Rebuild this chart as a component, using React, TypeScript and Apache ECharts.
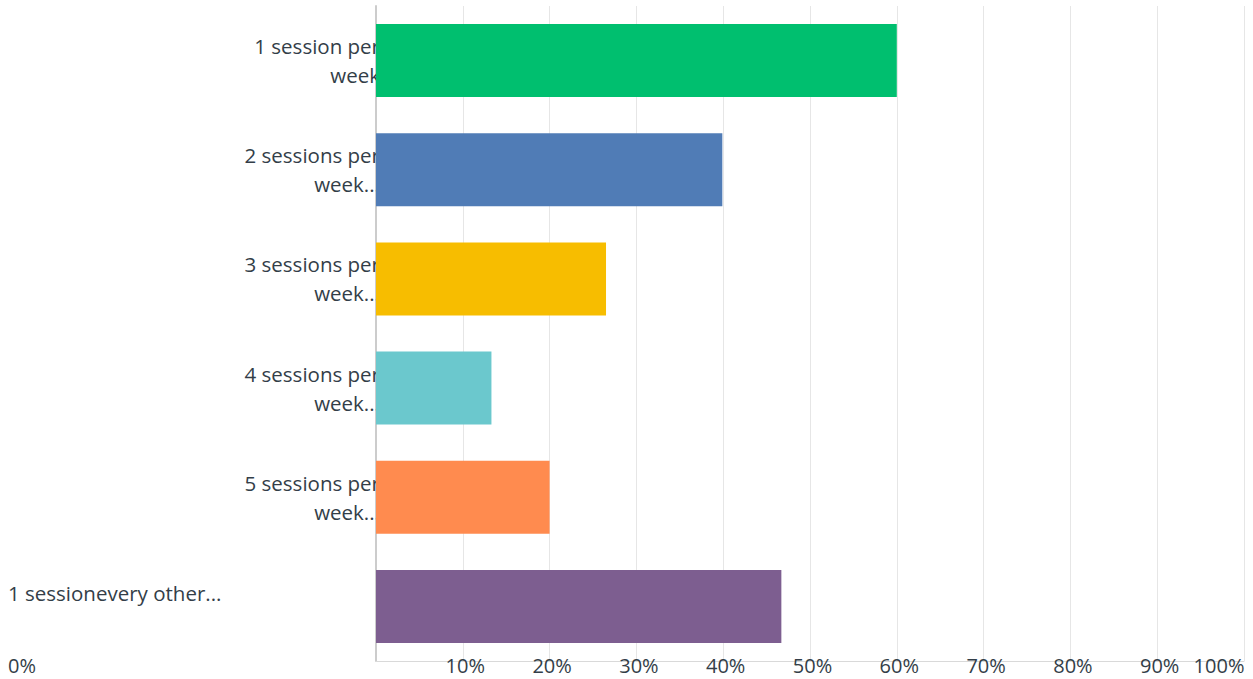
import React, { useEffect, useRef } from "react";
import * as echarts from "echarts";

const categories = [
  "1 session per\nweek",
  "2 sessions per\nweek...",
  "3 sessions per\nweek...",
  "4 sessions per\nweek...",
  "5 sessions per\nweek...",
  "1 sessionevery other...",
];
const values = [60.0, 39.9, 26.5, 13.3, 20.0, 46.7];
const colors = ["#00BF6F", "#507CB6", "#F7BD00", "#6BC8CD", "#FF8B4F", "#7D5E90"];
const xTicks = [0, 10, 20, 30, 40, 50, 60, 70, 80, 90, 100];

const FONT = "'Open Sans', sans-serif";
const TEXT = "#333E48";

export default function App() {
  const ref = useRef<HTMLDivElement>(null);
  useEffect(() => {
    const chart = echarts.init(ref.current!, null, { renderer: "svg" });
    chart.setOption({
      animation: false,
      grid: { left: 376, right: 9, top: 6, bottom: 18, containLabel: false },
      xAxis: {
        type: "value",
        min: 0,
        max: 100,
        interval: 10,
        axisLine: { show: true, lineStyle: { color: "#D9D9D9", width: 1 } },
        axisTick: { show: false },
        splitLine: { show: true, lineStyle: { color: "#E6E6E6", width: 1 } },
        axisLabel: {
          margin: -6,
          color: TEXT,
          fontFamily: FONT,
          fontSize: 20,
          formatter: (v: number) => {
            if (!xTicks.includes(v)) return "";
            if (v === 0) return "{z|0%}";
            if (v === 100) return "{h|100%}";
            return "{n|" + v + "%}";
          },
          rich: {
            z: { width: 736, align: "left", color: TEXT, fontFamily: FONT, fontSize: 20 },
            h: { padding: [0, 50, 0, 0], color: TEXT, fontFamily: FONT, fontSize: 20 },
            n: { padding: [0, 0, 0, 5], color: TEXT, fontFamily: FONT, fontSize: 20 },
          },
        },
      },
      yAxis: {
        type: "category",
        inverse: true,
        data: categories,
        axisLine: { show: true, lineStyle: { color: "#CCCCCC", width: 2 } },
        axisTick: { show: false },
        axisLabel: {
          margin: -4,
          align: "right",
          color: TEXT,
          fontFamily: FONT,
          fontSize: 20.5,
          lineHeight: 29,
          formatter: (v: string) =>
            v.indexOf("\n") >= 0 ? v : "{l|" + v + "}",
          rich: {
            l: {
              width: 372,
              align: "left",
              padding: [0, 0, 26, 0],
              color: TEXT,
              fontFamily: FONT,
              fontSize: 20.5,
            },
          },
        },
      },
      series: [
        {
          type: "bar",
          barWidth: 73,
          data: values.map((v, i) => ({ value: v, itemStyle: { color: colors[i] } })),
        },
      ],
    });
    return () => chart.dispose();
  }, []);
  return (
    <div
      ref={ref}
      style={{ width: 1253, height: 679, position: "absolute", left: 0, top: 0, background: "#fff" }}
    />
  );
}
